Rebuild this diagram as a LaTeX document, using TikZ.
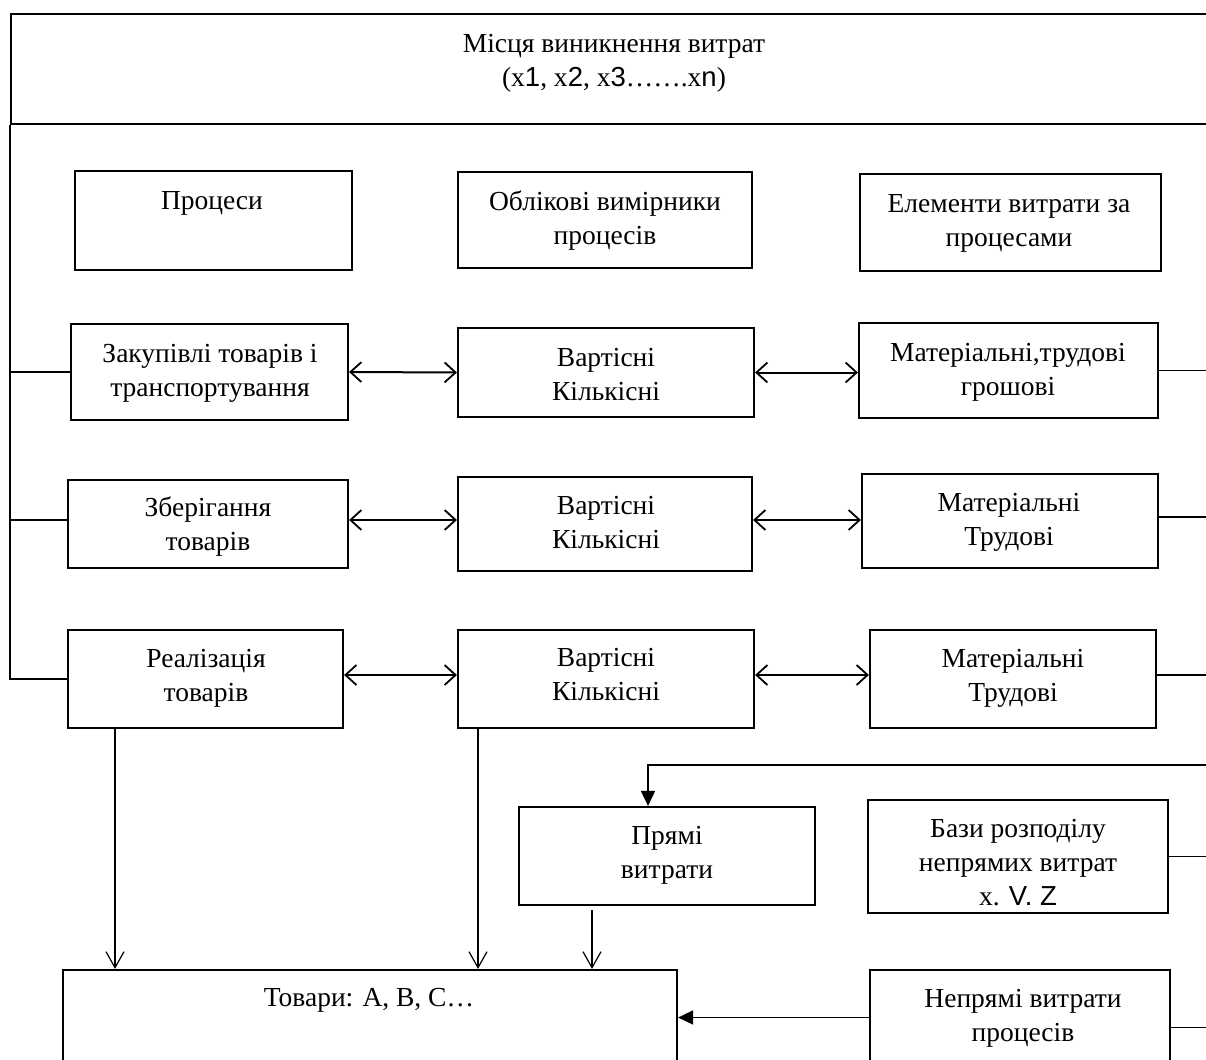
\documentclass[tikz,border=0pt]{standalone}
\usepackage{fontspec}
\setmainfont{Liberation Serif}
\newfontfamily\sansf{Liberation Sans}
\usetikzlibrary{arrows.meta,fit}

\begin{document}
\begin{tikzpicture}[x=1pt,y=-1pt,
  box/.style={draw, line width=2.2pt, inner sep=0pt},
  txt/.style={align=center, font=\fontsize{27.5}{34}\selectfont, inner sep=0pt, yshift=-3pt},
  link/.style={line width=1.7pt},
  dbl/.style={line width=2pt, {Straight Barb[length=11pt,width=20pt,line width=1.8pt]}-{Straight Barb[length=11pt,width=20pt,line width=1.8pt]}},
  varrow/.style={line width=1.2pt, -{Straight Barb[length=16pt,width=18pt,line width=1.2pt]}},
  farrow/.style={line width=1.8pt, -{Triangle[length=15pt,width=14pt]}}
]
\useasboundingbox (0,0) rectangle (1206,1059);
\fill[white] (0,0) rectangle (1206,1059);

% named helper coordinates
\coordinate (redge) at (1206,0);
\coordinate (ca) at (115,0);
\coordinate (cb) at (478,0);
\coordinate (cc) at (592,0);
\coordinate (cd) at (648,0);
\coordinate (rin) at (1206,765);

% top box
\node[box, fit={(11,14) (1220,124)}] (top) {};
\node[txt] (ttop) at (614,60) {Місця виникнення витрат\\(x{\sansf 1}, x{\sansf 2}, x{\sansf 3}…….x{\sansf n})};

% header row
\node[box, fit={(75,171) (352,270)}] (h1) {};
\node[txt] (th1) at (212,200) {Процеси};
\node[box, fit={(458,172) (752,268)}] (h2) {};
\node[txt] (th2) at (605,218) {Облікові вимірники\\процесів};
\node[box, fit={(860,174) (1161,271)}] (h3) {};
\node[txt] (th3) at (1009,220) {Елементи витрати за\\процесами};

% row 1
\node[box, fit={(71,324) (348,420)}] (p1) {};
\node[txt] (tp1) at (210,370) {Закупівлі товарів і\\транспортування};
\node[box, fit={(458,328) (754,417)}] (v1) {};
\node[txt] (tv1) at (606,372) {Вартісні\\Кількісні};
\node[box, fit={(859,323) (1158,418)}] (m1) {};
\node[txt] (tm1) at (1008,369) {Матеріальні,трудові\\грошові};

% row 2
\node[box, fit={(68,480) (348,568)}] (p2) {};
\node[txt] (tp2) at (208,524) {Зберігання\\товарів};
\node[box, fit={(458,477) (752,571)}] (v2) {};
\node[txt] (tv2) at (606,520) {Вартісні\\Кількісні};
\node[box, fit={(862,474) (1158,568)}] (m2) {};
\node[txt] (tm2) at (1009,519) {Матеріальні\\Трудові};

% row 3
\node[box, fit={(68,630) (343,728)}] (p3) {};
\node[txt] (tp3) at (206,675) {Реалізація\\товарів};
\node[box, fit={(458,630) (754,728)}] (v3) {};
\node[txt] (tv3) at (606,672) {Вартісні\\Кількісні};
\node[box, fit={(870,630) (1156,728)}] (m3) {};
\node[txt] (tm3) at (1013,675) {Матеріальні\\Трудові};

% lower part
\node[box, fit={(519,807) (815,905)}] (pr) {};
\node[txt] (tpr) at (667,852) {Прямі\\витрати};
\node[box, fit={(868,800) (1168,913)}] (bz) {};
\node[txt] (tbz) at (1018,860) {Бази розподілу\\непрямих витрат\\x. {\sansf V. Z}};
\node[box, fit={(63,970) (677,1075)}] (tv) {};
\node[txt] (ttv) at (369,997) {Товари: A, B, C…};
\node[box, fit={(870,970) (1170,1075)}] (np) {};
\node[txt] (tnp) at (1023,1015) {Непрямі витрати\\процесів};

% left bus
\draw[link] (top.south west) |- (p3.west);
\draw[link] (top.south west |- p1.west) -- (p1.west);
\draw[link] ([yshift=4pt]top.south west |- p2.west) -- ([yshift=4pt]p2.west);

% horizontal double arrows
\draw[dbl] (p1.east) -- (v1.west);
\draw[dbl] (v1.east) -- (v1.east -| m1.west);
\draw[dbl] ([yshift=4pt]p2.east) -- ([yshift=4pt]p2.east -| v2.west);
\draw[dbl] ([yshift=4pt]v2.east) -- ([yshift=4pt]v2.east -| m2.west);
\draw[dbl] ([yshift=4pt]p3.east) -- ([yshift=4pt]p3.east -| v3.west);
\draw[dbl] ([yshift=4pt]v3.east) -- ([yshift=4pt]v3.east -| m3.west);

% right stubs
\draw[link] (m1.east) -- (m1.east -| redge);
\draw[link] ([yshift=4pt]m2.east) -- ([yshift=4pt]m2.east -| redge);
\draw[link] ([yshift=4pt]m3.east) -- ([yshift=4pt]m3.east -| redge);
\draw[link] (bz.east) -- (bz.east -| redge);
\draw[link] ([yshift=-5pt]np.east) -- ([yshift=-5pt]np.east -| redge);

% into direct costs
\draw[farrow] (rin) -| (pr.north -| cd);

% down arrows into goods
\draw[varrow] (p3.south -| ca) -- (tv.north -| ca);
\draw[varrow] (v3.south -| cb) -- (tv.north -| cb);
\draw[varrow, shorten <=4pt] (pr.south -| cc) -- (tv.north -| cc);

% indirect costs into goods
\draw[farrow] ([yshift=5pt]np.west) -- ([yshift=5pt]np.west -| tv.east);
\end{tikzpicture}
\end{document}
